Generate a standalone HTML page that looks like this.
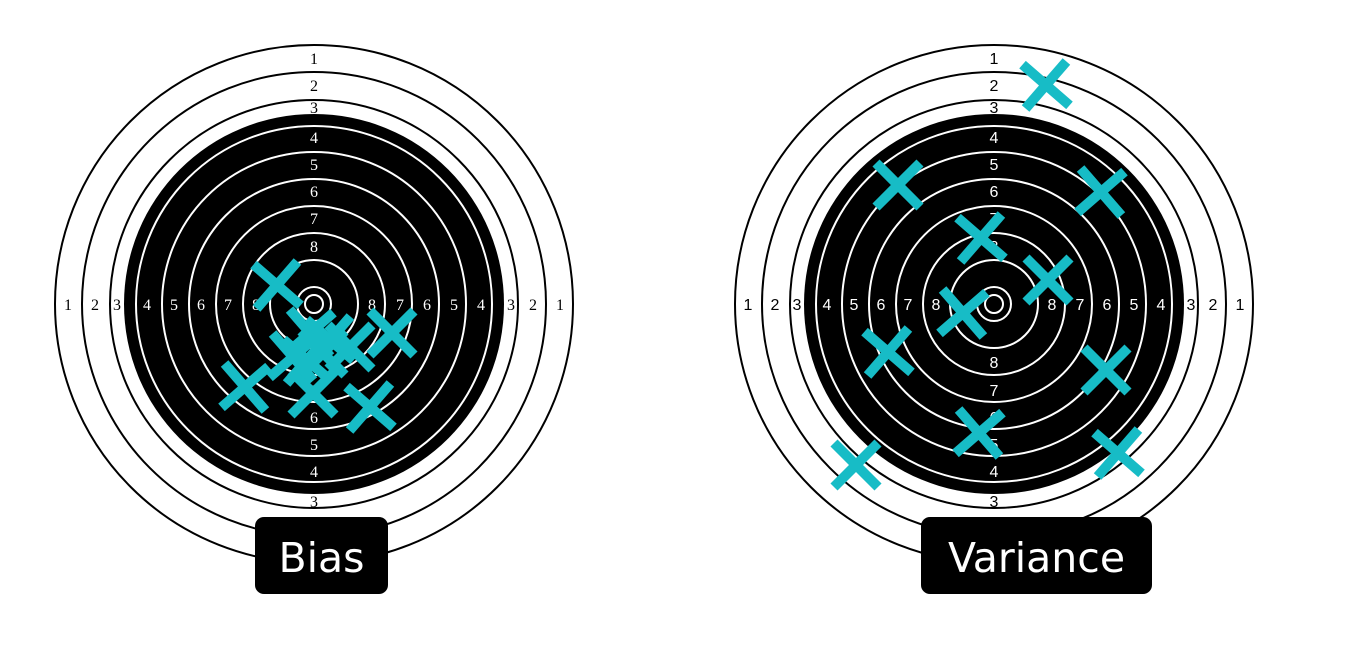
<!DOCTYPE html>
<html><head><meta charset="utf-8"><style>
html,body{margin:0;padding:0;background:#fff;}
svg{display:block;}
</style></head><body>
<svg id="chart" width="1356" height="646" viewBox="0 0 1356 646" xmlns="http://www.w3.org/2000/svg"></svg>
<script>
// hit offsets (px from target centre)
const biasDx = [-37, 78, -69, 56, -1, -4, 16, 36, -21, -7, 9];
const biasDy = [-19, 29, 83, 103, 89, 29, 36, 43, 53, 56, 49];
const varDx = [52, -96, 107, -13, 54, -31, -106, 112, -15, 124, -138];
const varDy = [-219, -119, -112, -66, -24, 9, 48, 66, 129, 149, 161];
const ringLabels = ["1","2","3","4","5","6","7","8"];
const labelR = [246, 219, 197, 167, 140, 113, 86, 58];

const NS = "http://www.w3.org/2000/svg";
const svg = document.getElementById('chart');
function mk(tag, attrs, parent){
  const e = document.createElementNS(NS, tag);
  for (const k in attrs) e.setAttribute(k, attrs[k]);
  (parent||svg).appendChild(e);
  return e;
}
function drawTarget(cx, cy, font, name, label, boxX, boxW, dx, dy){
  const g = mk('g', {});
  
  
  [259, 232, 204].forEach(r => mk('circle', {cx, cy, r, fill:'#fff', stroke:'#000', 'stroke-width':2}, g));
  mk('circle', {cx, cy, r:190, fill:'#000'}, g);
  [178, 152, 125, 98, 71, 44, 17, 9].forEach(r => mk('circle', {cx, cy, r, fill:'none', stroke:'#fff', 'stroke-width':2}, g));
  ringLabels.forEach((t, i) => {
    const r = labelR[i];
    const col = i < 3 ? '#000' : '#fff';
    [[-r,0],[r,0],[0,-r],[0,r]].forEach(([ox, oy]) => {
      const tx = mk('text', {x:cx+ox, y:cy+oy+6, 'text-anchor':'middle', 'font-size':16, fill:col, 'font-family':font}, g);
      
      
      tx.textContent = t;
    });
  });
  // hits
  for (let i = 0; i < dx.length; i++){
    const x = cx + dx[i], y = cy + dy[i];
    const c = mk('g', {transform:`translate(${x},${y}) rotate(${(i%3)*4-4})`}, g);
    
    
    mk('line', {x1:-22, y1:-22, x2:22, y2:22, stroke:'#17bcc6', 'stroke-width':10}, c);
    mk('line', {x1:22, y1:-22, x2:-22, y2:22, stroke:'#17bcc6', 'stroke-width':10}, c);
  }
  const b = mk('g', {}, g);
  
  
  mk('rect', {x:boxX, y:517, width:boxW, height:77, rx:9, fill:'#000'}, b);
  const t = mk('text', {x:boxX+boxW/2, y:572, 'text-anchor':'middle', 'font-size':41, fill:'#fff', 'font-family':'DejaVu Sans, sans-serif'}, b);
  
  
  t.textContent = label;
}
drawTarget(314, 304, '"Liberation Serif", serif', 'bias', 'Bias', 255, 133, biasDx, biasDy);
drawTarget(994, 304, '"Liberation Sans", sans-serif', 'variance', 'Variance', 921, 231, varDx, varDy);
</script>
</body></html>
